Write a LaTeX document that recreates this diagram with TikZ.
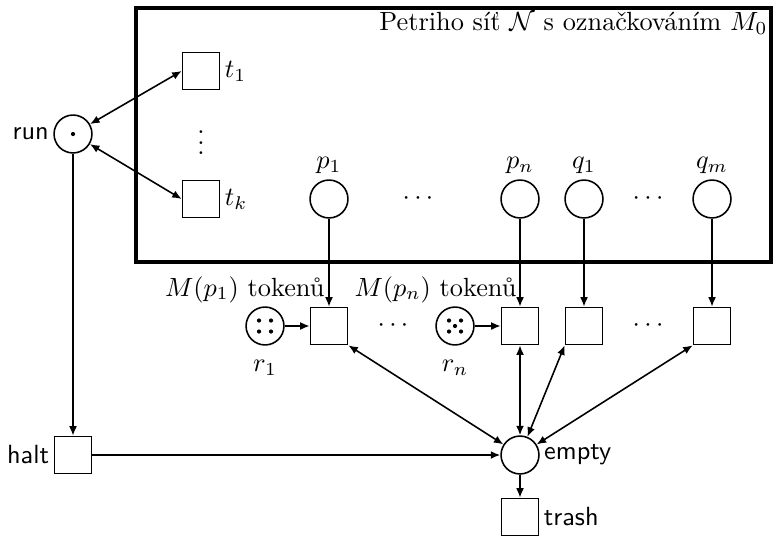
\documentclass[tikz,border=0pt]{standalone}
\usetikzlibrary{arrows.meta,positioning,calc}
\begin{document}
\begin{tikzpicture}[x=0.38pt,y=-0.38pt,>={Latex[length=3.6pt,width=3pt]},
  place/.style={draw,semithick,circle,minimum size=14.4pt,inner sep=0pt},
  trans/.style={draw,semithick,rectangle,minimum size=14.1pt,inner sep=0pt},
  arc/.style={semithick,->},
  barc/.style={semithick,<->},
  tok/.style={fill,circle,inner sep=0pt,minimum size=1.6pt},
  sflab/.style={font=\sffamily,inner sep=1.5pt},
  mlab/.style={inner sep=1.5pt}]
\useasboundingbox (0,0) rectangle (776,537);
% big box
\draw[ultra thick] (136,8) rectangle (771,262);
\node[anchor=base east,inner sep=0pt] (title) at (768,31) {Petriho síť $\mathcal{N}$ s označkováním $M_0$};
% run
\node[place] (run) at (73,134) {};
\node[sflab,left=0pt of run] (runl) {run};
\node[tok] (rt) at (run.center) {};
% t1, tk
\node[trans] (t1) at (201,71) {};
\node[mlab,right=0pt of t1] (t1l) {$t_1$};
\node[trans] (tk) at (201,199) {};
\node[mlab,right=0pt of tk] (tkl) {$t_k$};
\node (vd) at (201,135) {$\vdots$};
% places in N
\node[place,label={[inner sep=2pt]above:$p_1$}] (p1) at (329,199) {};
\node (d1) at (418,199) {$\cdots$};
\node[place,label={[inner sep=2pt]above:$p_n$}] (pn) at (520,199) {};
\node[place,label={[inner sep=2pt]above:$q_1$}] (q1) at (584,199) {};
\node (d2) at (648,199) {$\cdots$};
\node[place,label={[inner sep=2pt]above:$q_m$}] (qm) at (712,199) {};
% bottom row transitions
\node[trans] (T1) at (329,326) {};
\node (d3) at (393,326) {$\cdots$};
\node[trans] (Tn) at (520,326) {};
\node[trans] (Q1) at (584,326) {};
\node (d4) at (648,326) {$\cdots$};
\node[trans] (Qm) at (712,326) {};
% r places
\node[place] (r1) at (265,326) {};
\node (r1l) at (265,368) {$r_1$};
\node[place] (rn) at (455,326) {};
\node (rnl) at (455,368) {$r_n$};
\foreach \dx/\dy in {-6/-5.5,6/-5.5,-6/5.5,6/5.5}{\node[tok] at ($(r1.center)+(\dx,\dy)$) {};}
\foreach \dx/\dy in {-6/-5.5,6/-5.5,-6/5.5,6/5.5,0/0}{\node[tok] at ($(rn.center)+(\dx,\dy)$) {};}
\node[anchor=base east,inner sep=0pt] (m1) at (325,296) {$M(p_1)$ tokenů};
\node[anchor=base east,inner sep=0pt] (mn) at (517,296) {$M(p_n)$ tokenů};
% halt, empty, trash
\node[trans] (halt) at (73,455) {};
\node[sflab,left=0pt of halt] (haltl) {halt};
\node[place] (empty) at (520,455) {};
\node[sflab,right=0pt of empty] (emptyl) {empty};
\node[trans] (trash) at (520,517) {};
\node[sflab,right=0pt of trash] (trashl) {trash};
% arcs
\draw[barc] (run) -- (t1.west);
\draw[barc] (run) -- (tk.west);
\draw[arc] (run) -- (halt);
\draw[arc] (halt) -- (empty);
\draw[arc] (p1) -- (T1);
\draw[arc] (pn) -- (Tn);
\draw[arc] (q1) -- (Q1);
\draw[arc] (qm) -- (Qm);
\draw[arc] (r1) -- (T1);
\draw[arc] (rn) -- (Tn);
\draw[barc] (T1.south east) -- (empty);
\draw[barc] (Tn) -- (empty);
\draw[barc] (Q1.south west) -- (empty);
\draw[barc] (Qm.south west) -- (empty);
\draw[arc] (empty) -- (trash);
\end{tikzpicture}
\end{document}
